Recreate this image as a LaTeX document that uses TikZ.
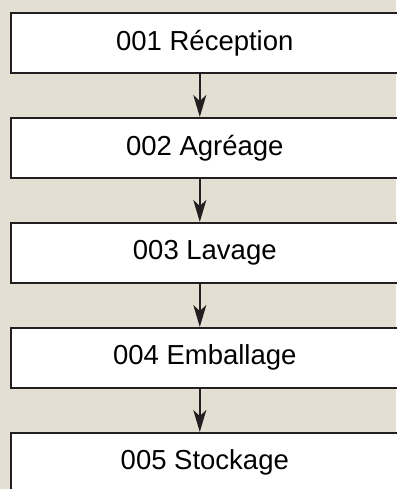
\documentclass[tikz,border=0pt]{standalone}
\usepackage{fontspec}
\setmainfont{Liberation Sans}
\usetikzlibrary{arrows.meta}
\definecolor{paper}{HTML}{E3E0D3}
\definecolor{ink}{HTML}{231F20}
\begin{document}
\begin{tikzpicture}[x=1pt,y=1pt,
  stepbox/.style={draw=ink, line width=1.6pt, fill=white, minimum width=388pt,
    minimum height=60pt, inner sep=0pt, anchor=north west, font=\fontsize{27.5}{32}\selectfont},
  flow/.style={draw=ink, line width=1.8pt, -{Stealth[length=22pt,width=13pt,inset=6pt]}}]
  \fill[paper] (0,0) rectangle (396,-489);
  \useasboundingbox (0,0) rectangle (396,-489);
  \node[stepbox] (s1) at (10,-12) {001 Réception};
  \node[stepbox] (s2) at (10,-117) {002 Agréage};
  \node[stepbox] (s3) at (10,-222) {003 Lavage};
  \node[stepbox] (s4) at (10,-327) {004 Emballage};
  \node[stepbox] (s5) at (10,-432) {005 Stockage};
  \foreach \a/\b in {s1/s2,s2/s3,s3/s4,s4/s5}
    \draw[flow] ([xshift=-5pt]\a.south) -- ([xshift=-5pt]\b.north);
\end{tikzpicture}
\end{document}
